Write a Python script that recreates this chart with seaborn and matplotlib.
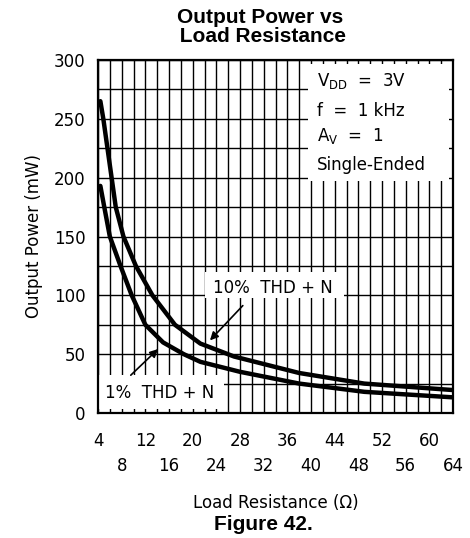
import numpy as np
import pandas as pd
import seaborn as sns
import matplotlib.pyplot as plt
from matplotlib.patches import Rectangle

# curve values (load in ohms, power in mW)
r_10 = [4.4, 4.9, 5.6, 7.0, 8.3, 10.4, 13.2, 17.0, 21.3, 27.0, 38.0, 49.0, 64.0]
p_10 = [265, 250, 225, 175, 150, 125, 100, 75, 59, 48, 34, 25, 19.5]
r_1 = [4.4, 5.1, 6.0, 7.8, 9.7, 12.0, 15.0, 18.5, 21.3, 28.0, 38.0, 49.0, 64.0]
p_1 = [193, 174, 150, 125, 100, 75, 60, 50, 43.5, 35, 25, 18, 13.3]
curve_names = ["10% THD + N", "1% THD + N"]

x_row1 = [4, 12, 20, 28, 36, 44, 52, 60]
x_row2 = [8, 16, 24, 32, 40, 48, 56, 64]
y_ticks = [0, 50, 100, 150, 200, 250, 300]

df = pd.concat([
    pd.DataFrame({"R": r_10, "P": p_10, "curve": curve_names[0]}),
    pd.DataFrame({"R": r_1, "P": p_1, "curve": curve_names[1]}),
])

sns.set_style("white")
plt.rcParams["font.family"] = ["DejaVu Sans"]
plt.rcParams["text.color"] = "black"
plt.rcParams["axes.labelcolor"] = "black"
plt.rcParams["xtick.color"] = "black"
plt.rcParams["ytick.color"] = "black"

fig = plt.figure(figsize=(4.7, 5.38), dpi=100)
ax = fig.add_axes([98 / 470, 125 / 538, 355 / 470, 353 / 538])

# grid every 2 ohm / 25 mW
ax.vlines(np.arange(4, 65, 2), 0, 300, color="black", lw=1.0, zorder=1)
ax.hlines(np.arange(0, 301, 25), 4, 64, color="black", lw=1.0, zorder=1)

# white boxes that blank the grid behind the labels
for x0, y0, w, h in [(39.5, 197, 23.9, 99.6), (22.1, 97.4, 23.5, 22.2), (4, 3.5, 21.3, 28.7)]:
    ax.add_patch(Rectangle((x0, y0), w, h, facecolor="white", edgecolor="none", zorder=2))

sns.lineplot(data=df, x="R", y="P", hue="curve", palette=["black", "black"],
             lw=3.2, legend=False, sort=False, ax=ax, zorder=3)

ax.set_xlim(4, 64)
ax.set_ylim(0, 300)
ax.set_xticks(x_row1)
ax.set_xticklabels([str(v) for v in x_row1])
ax.set_xticks(x_row2, minor=True)
ax.set_xticklabels([str(v) for v in x_row2], minor=True)
ax.set_yticks(y_ticks)
ax.tick_params(axis="x", which="major", length=0, pad=14, labelsize=12)
ax.tick_params(axis="x", which="minor", length=0, pad=32, labelsize=12)
ax.tick_params(axis="y", length=0, pad=9, labelsize=12)
ax.set_xlabel("Load Resistance (Ω)", fontsize=12, va="center")
ax.xaxis.set_label_coords(0.5, -0.255)
ax.set_ylabel("Output Power (mW)", fontsize=12, labelpad=8)
for s in ax.spines.values():
    s.set_color("black")
    s.set_linewidth(1.6)
    s.set_zorder(5)

# condition box
tx = 41.0
ax.text(tx, 282, r"V$_{\mathrm{DD}}$  =  3V", fontsize=12, va="center", zorder=4)
ax.text(tx, 257, "f  =  1 kHz", fontsize=12, va="center", zorder=4)
ax.text(tx, 235, r"A$_{\mathrm{V}}$  =  1", fontsize=12, va="center", zorder=4)
ax.text(tx, 211, "Single-Ended", fontsize=12, va="center", zorder=4)

# curve labels with arrows
ax.text(33.6, 106, "10%  THD + N", fontsize=12, ha="center", va="center", zorder=4)
ax.text(14.4, 17, "1%  THD + N", fontsize=12, ha="center", va="center", zorder=4)
ax.annotate("", xy=(22.6, 60), xytext=(28.8, 93), zorder=4,
            arrowprops=dict(arrowstyle="-|>", color="black", lw=1.2, mutation_scale=12))
ax.annotate("", xy=(14.5, 56), xytext=(9.2, 30.5), zorder=4,
            arrowprops=dict(arrowstyle="-|>", color="black", lw=1.2, mutation_scale=12))

fig.text(260 / 470, 1 - 27 / 538, "Output Power vs\n Load Resistance", ha="center",
         va="center", fontsize=15, fontweight="bold", family="Liberation Sans",
         linespacing=1.0)
fig.text(263 / 470, 1 - 524 / 538, "Figure 42.", ha="center", va="center",
         fontsize=15, fontweight="bold", family="Liberation Sans")

fig.savefig("out.png", dpi=100)
